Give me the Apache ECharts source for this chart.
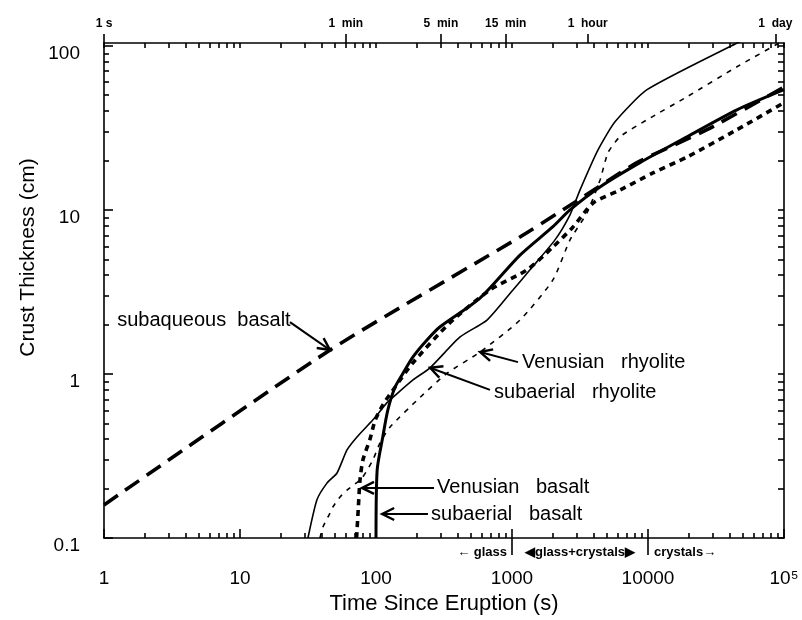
<!DOCTYPE html>
<html><head><meta charset="utf-8">
<script src="https://cdn.jsdelivr.net/npm/echarts@6/dist/echarts.min.js"></script>
<style>html,body{margin:0;padding:0;background:#fff}#c{width:802px;height:620px}</style>
</head><body><div id="c"></div>
<script>
// ---- axis ticks / labels ----
const xTickValues = [1, 10, 100, 1000, 10000, 100000];
const xTickLabels = ['1', '10', '100', '1000', '10000', '10\u2075'];
const yTickValues = [0.1, 1, 10, 100];
const yTickLabels = ['0.1', '1', '10', '100'];
const timeMarkValues = [1, 60, 300, 900, 3600, 86400];
const timeMarkLabels = ['1 s', '1  min', '5  min', '15  min', '1  hour', '1  day'];
const phaseBounds = [1000, 10000];

// ---- series (time s, thickness cm) ----
const subaqueousT = [1, 46, 1145, 2370, 8300, 27150, 100000];
const subaqueousV = [0.159, 1.40, 6.84, 10.0, 19.4, 30.8, 56];

const subBasaltT = [100, 102, 112, 122, 138, 158, 187, 237, 296, 582, 1145, 2000, 2670, 4440, 8730, 19360, 45100, 100000];
const subBasaltV = [0.1, 0.26, 0.41, 0.60, 0.83, 1.01, 1.27, 1.61, 1.94, 2.90, 5.3, 7.9, 10.0, 13.8, 19.4, 27.9, 40.7, 54];

const venBasaltT = [72, 74.2, 76.3, 80.2, 90.3, 98.4, 112.6, 138, 187, 350, 689, 1290, 2000, 2810, 3945, 6220, 10880, 19360, 45100, 100000];
const venBasaltV = [0.1, 0.155, 0.226, 0.30, 0.40, 0.52, 0.65, 0.83, 1.17, 2.05, 3.25, 4.31, 5.94, 7.87, 11.0, 13.2, 16.8, 21.0, 30.8, 45];

const subRhyoT = [31.6, 36.8, 43.6, 51.7, 61.2, 72.5, 95, 120, 133, 187, 250, 415, 655, 1016, 1356, 2070, 2670, 3160, 4290, 5720, 9840, 45100, 100000];
const subRhyoV = [0.1, 0.171, 0.216, 0.249, 0.344, 0.413, 0.525, 0.666, 0.72, 0.92, 1.09, 1.68, 2.13, 3.25, 4.31, 6.56, 9.33, 13.2, 23.2, 34.4, 54, 104, 146];

const venRhyoT = [38.7, 40.8, 45.9, 48.3, 54.4, 61.2, 78.9, 95, 107, 127, 211, 333, 582, 1145, 2000, 2670, 3560, 4440, 5080, 6220, 9840, 19360, 45100, 100000];
const venRhyoV = [0.1, 0.117, 0.142, 0.155, 0.178, 0.196, 0.232, 0.30, 0.38, 0.475, 0.72, 1.01, 1.36, 2.13, 3.74, 6.56, 9.6, 15.2, 22.3, 27.9, 35.4, 48.9, 74.5, 108];

// ---- annotations (data coords) ----
const annoText = ['subaqueous  basalt', 'Venusian   rhyolite', 'subaerial   rhyolite', 'Venusian   basalt', 'subaerial   basalt'];
const annoTextPos = [[1.25, 2.13], [1185, 1.18], [738, 0.776], [281, 0.202], [254, 0.140]];
const annoArrowFrom = [[23.3, 2.07], [1107, 1.18], [689, 0.80], [267, 0.202], [241, 0.140]];
const annoArrowTo = [[45.9, 1.40], [582, 1.36], [250, 1.09], [78.9, 0.202], [111, 0.140]];

const FONT = 'Liberation Sans, Arial, Helvetica, sans-serif';
const pairs = (t, v) => t.map((x, i) => [x, v[i]]);
function minors(lo, hi) { const out = []; for (let d = lo; d < hi; d *= 10) for (let k = 2; k <= 9; k++) out.push(+(d * k).toPrecision(6)); return out; }
const xMinor = minors(1, 100000);
const yMinor = minors(0.1, 100);
const lbl = (vals, labs) => (v) => { let best = 0, bd = Infinity; vals.forEach((x, i) => { const d = Math.abs(Math.log10(x) - Math.log10(v)); if (d < bd) { bd = d; best = i; } }); return labs[best]; };

const XMIN = 1, XMAX = 100000, YMIN = 0.1, YMAX = 104;
const lineC = { color: '#000', width: 1.6 };
const baseX = { type: 'log', logBase: 10, min: XMIN, max: XMAX, splitLine: { show: false }, axisPointer: { show: false } };
const baseY = { type: 'log', logBase: 10, min: YMIN, max: YMAX, splitLine: { show: false } };

const chart = echarts.init(document.getElementById('c'), null, { renderer: 'canvas' });
const option = {
  animation: false,
  backgroundColor: '#fff',
  grid: { left: 104, right: 18, top: 43, bottom: 82, containLabel: false, outerBoundsMode: 'none' },
  xAxis: [
    Object.assign({}, baseX, { position: 'bottom', axisLine: { lineStyle: lineC },
      axisTick: { customValues: xTickValues, inside: true, length: 9, lineStyle: lineC },
      axisLabel: { customValues: xTickValues, formatter: lbl(xTickValues, xTickLabels), margin: 31, fontSize: 19, color: '#000', fontFamily: FONT },
      name: 'Time Since Eruption (s)', nameLocation: 'middle', nameGap: 54,
      nameTextStyle: { fontSize: 22, color: '#000', fontFamily: FONT } }),
    Object.assign({}, baseX, { position: 'bottom', axisLine: { show: false },
      axisTick: { customValues: xMinor, inside: true, length: 5, lineStyle: lineC },
      axisLabel: { show: false } }),
    Object.assign({}, baseX, { position: 'bottom', axisLine: { show: false },
      axisTick: { customValues: phaseBounds, inside: false, length: 17, lineStyle: lineC },
      axisLabel: { show: false } }),
    Object.assign({}, baseX, { position: 'top', axisLine: { lineStyle: lineC },
      axisTick: { customValues: timeMarkValues, inside: false, length: 9, lineStyle: lineC },
      axisLabel: { customValues: timeMarkValues, formatter: lbl(timeMarkValues, timeMarkLabels), margin: 13, fontSize: 12, fontWeight: 'bold', color: '#000', fontFamily: FONT } }),
    Object.assign({}, baseX, { position: 'top', axisLine: { show: false },
      axisTick: { customValues: xMinor.concat(xTickValues), inside: true, length: 5, lineStyle: lineC },
      axisLabel: { show: false } })
  ],
  yAxis: [
    Object.assign({}, baseY, { position: 'left', axisLine: { lineStyle: lineC },
      axisTick: { customValues: yTickValues, inside: true, length: 9, lineStyle: lineC },
      axisLabel: { customValues: yTickValues, formatter: lbl(yTickValues, yTickLabels), margin: 24, fontSize: 19, color: '#000', fontFamily: FONT, verticalAlign: 'top', lineHeight: 16 } }),
    Object.assign({}, baseY, { position: 'left', axisLine: { show: false },
      axisTick: { customValues: yMinor, inside: true, length: 5, lineStyle: lineC },
      axisLabel: { show: false } }),
    Object.assign({}, baseY, { position: 'right', axisLine: { lineStyle: lineC },
      axisTick: { customValues: yMinor.concat(yTickValues), inside: true, length: 6, lineStyle: lineC },
      axisLabel: { show: false } })
  ],
  series: [
    { name: 'subaqueous basalt', type: 'line', data: pairs(subaqueousT, subaqueousV), symbol: 'none', smooth: 0.2,
      lineStyle: { color: '#000', width: 3.6, type: [17, 9] } },
    { name: 'subaerial basalt', type: 'line', data: pairs(subBasaltT, subBasaltV), symbol: 'none', smooth: 0.25,
      lineStyle: { color: '#000', width: 3 } },
    { name: 'Venusian basalt', type: 'line', data: pairs(venBasaltT, venBasaltV), symbol: 'none', smooth: 0.25,
      lineStyle: { color: '#000', width: 3.6, type: [6, 5] } },
    { name: 'subaerial rhyolite', type: 'line', data: pairs(subRhyoT, subRhyoV), symbol: 'none', smooth: 0.2,
      lineStyle: { color: '#000', width: 1.6 } },
    { name: 'Venusian rhyolite', type: 'line', data: pairs(venRhyoT, venRhyoV), symbol: 'none', smooth: 0.2,
      lineStyle: { color: '#000', width: 1.6, type: [5, 6] } }
  ]
};
chart.setOption(option);

// ---- annotations placed from data coordinates ----
const px = (p) => chart.convertToPixel({ xAxisIndex: 0, yAxisIndex: 0 }, p);
function arrow(a, b) {
  const dx = b[0] - a[0], dy = b[1] - a[1], L = Math.hypot(dx, dy), ux = dx / L, uy = dy / L;
  const hl = 12, hw = 6, bx = b[0] - ux * hl, by = b[1] - uy * hl;
  return [
    { type: 'line', shape: { x1: a[0], y1: a[1], x2: b[0] - ux * 2, y2: b[1] - uy * 2 }, style: { stroke: '#000', lineWidth: 2 } },
    { type: 'polyline', shape: { points: [[bx - uy * hw, by + ux * hw], b, [bx + uy * hw, by - ux * hw]] }, style: { stroke: '#000', lineWidth: 2.4, fill: null } }
  ];
}
const g = [];
annoText.forEach((t, i) => {
  const p = px(annoTextPos[i]);
  g.push({ type: 'text', x: p[0], y: p[1], style: { text: t, fill: '#000', font: '20px ' + FONT, textAlign: 'left', textVerticalAlign: 'middle' } });
  g.push(...arrow(px(annoArrowFrom[i]), px(annoArrowTo[i])));
});
// y-axis title
const yTop = px([1, YMAX])[1], yBot = px([1, YMIN])[1];
g.push({ type: 'text', x: 28, y: (yTop + yBot) / 2 - 33, rotation: Math.PI / 2,
  style: { text: 'Crust Thickness (cm)', fill: '#000', font: '21px ' + FONT, textAlign: 'center', textVerticalAlign: 'middle' } });
// phase labels under bottom axis
const b0 = px([phaseBounds[0], YMIN]), b1 = px([phaseBounds[1], YMIN]);
const py = b0[1] + 14;
const small = 'bold 13px ' + FONT;
g.push({ type: 'text', x: b0[0] - 5, y: py, style: { text: '\u2190 glass', fill: '#000', font: small, textAlign: 'right', textVerticalAlign: 'middle' } });
g.push({ type: 'text', x: (b0[0] + b1[0]) / 2, y: py, style: { text: '\u25C0glass+crystals\u25B6', fill: '#000', font: small, textAlign: 'center', textVerticalAlign: 'middle' } });
g.push({ type: 'text', x: b1[0] + 6, y: py, style: { text: 'crystals\u2192', fill: '#000', font: small, textAlign: 'left', textVerticalAlign: 'middle' } });
chart.setOption({ graphic: g });
</script></body></html>
